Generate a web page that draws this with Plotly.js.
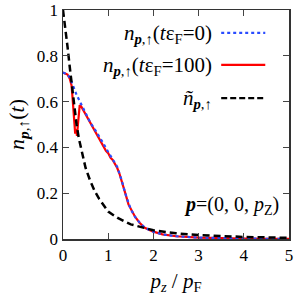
<!DOCTYPE html>
<html><head><meta charset="utf-8">
<script src="https://cdn.plot.ly/plotly-3.0.1.min.js"></script>
<style>html,body{margin:0;padding:0;background:#fff}</style>
</head><body><div id="plot" style="width:300px;height:296px"></div>
<script>
// Series t*eF = 0 (blue dotted)
const x0 = [0, 0.05, 0.1, 0.15, 0.2, 0.25, 0.3, 0.4, 0.5, 0.6, 0.7, 0.8, 0.9, 1.0, 1.1, 1.2, 1.3, 1.4, 1.5, 1.6, 1.7, 1.8, 1.9, 2.0, 2.2, 2.5, 3.0, 3.5, 4.0, 4.5, 5.0];
const y0 = [0.727, 0.724, 0.718, 0.705, 0.68, 0.655, 0.63, 0.59, 0.55, 0.51, 0.48, 0.45, 0.415, 0.38, 0.35, 0.315, 0.255, 0.185, 0.13, 0.095, 0.07, 0.052, 0.04, 0.032, 0.02, 0.012, 0.006, 0.003, 0.002, 0.001, 0.001];
// Series t*eF = 100 (red)
const x100 = [0, 0.05, 0.1, 0.15, 0.19, 0.21, 0.23, 0.25, 0.27, 0.29, 0.31, 0.33, 0.35, 0.37, 0.4, 0.5, 0.6, 0.7, 0.8, 0.85, 0.9, 0.95, 1.0, 1.05, 1.1, 1.15, 1.2, 1.25, 1.3, 1.35, 1.4, 1.45, 1.5, 1.6, 1.7, 1.8, 1.9, 2.0, 2.2, 2.5, 3.0, 3.5, 4.0, 4.5, 5.0];
const y100 = [0.727, 0.724, 0.718, 0.7, 0.67, 0.62, 0.55, 0.5, 0.46, 0.48, 0.45, 0.5, 0.56, 0.585, 0.58, 0.545, 0.505, 0.47, 0.44, 0.42, 0.405, 0.385, 0.375, 0.355, 0.345, 0.33, 0.31, 0.285, 0.255, 0.215, 0.185, 0.15, 0.13, 0.095, 0.07, 0.05, 0.04, 0.032, 0.02, 0.012, 0.006, 0.003, 0.002, 0.001, 0.001];
// n tilde (black dashed)
const xt = [0, 0.05, 0.1, 0.15, 0.2, 0.25, 0.3, 0.35, 0.4, 0.5, 0.6, 0.7, 0.8, 1.0, 1.2, 1.5, 2.0, 2.5, 3.0, 3.5, 4.0, 4.5, 5.0];
const yt = [1.0, 0.93, 0.84, 0.75, 0.66, 0.58, 0.5, 0.44, 0.395, 0.31, 0.255, 0.21, 0.175, 0.12, 0.093, 0.064, 0.038, 0.025, 0.017, 0.012, 0.009, 0.007, 0.005];

const legendText = [
  '<i>n</i><sub><b><i>p</i></b>,↑</sub>(<i>t</i>ε<sub>F</sub>=0)',
  '<i>n</i><sub><b><i>p</i></b>,↑</sub>(<i>t</i>ε<sub>F</sub>=100)',
  '<i>ñ</i><sub><b><i>p</i></b>,↑</sub>'
];
const xTicks = [0, 1, 2, 3, 4, 5];
const yTicks = [0, 0.2, 0.4, 0.6, 0.8, 1];
const yTickText = ['0', '0.2', '0.4', '0.6', '0.8', '1'];

const serif = 'serif';
const traces = [
  {x: x0, y: y0, mode: 'lines', line: {color: '#2a4cff', width: 2.2, dash: 'dot'}},
  {x: x100, y: y100, mode: 'lines', line: {color: '#ff0000', width: 2.2}},
  {x: xt, y: yt, mode: 'lines', line: {color: '#000000', width: 2.5, dash: '7px,4px'}},
];
const data = [traces[1], traces[0], traces[2]];

const legY = [0.895, 0.755, 0.61];
const legColors = ['#2a4cff', '#ff0000', '#000000'];
const legDash = ['dot', 'solid', '6px,3px'];
const annotations = legendText.map((t, i) => ({
  xref: 'paper', yref: 'paper', x: 0.67, y: legY[i], xanchor: 'right', yanchor: 'middle',
  text: t, showarrow: false, font: {family: serif, size: 21, color: '#000'}
}));
annotations.push({xref: 'paper', yref: 'paper', x: 0.965, y: 0.145, xanchor: 'right', yanchor: 'middle',
  text: '<b><i>p</i></b>=(0, 0, <i>p</i><sub>Z</sub>)', showarrow: false, font: {family: serif, size: 20, color: '#000'}});
const shapes = legY.map((yy, i) => ({
  type: 'line', xref: 'paper', yref: 'paper', x0: 0.7, x1: 0.895, y0: yy + 0.005, y1: yy + 0.005,
  line: {color: legColors[i], width: 2.2, dash: legDash[i]}
}));

const layout = {
  width: 300, height: 296,
  margin: {l: 63, r: 7, t: 10, b: 57},
  showlegend: false,
  paper_bgcolor: '#fff', plot_bgcolor: '#fff',
  font: {family: serif, size: 17, color: '#000'},
  xaxis: {
    range: [0, 5], tickvals: xTicks, ticks: 'inside', ticklen: 6, tickwidth: 1.2,
    showline: true, linecolor: '#333', linewidth: 1.5, mirror: 'ticks', showgrid: false, zeroline: false,
    tickfont: {family: serif, size: 17}, automargin: true,
    title: {text: '<i>p<sub>z</sub></i> / <i>p</i><sub>F</sub>', font: {family: serif, size: 21}, standoff: 9}
  },
  yaxis: {
    range: [0, 1], tickvals: yTicks, ticktext: yTickText, ticks: 'inside', ticklen: 6, tickwidth: 1.2,
    showline: true, linecolor: '#333', linewidth: 1.5, mirror: 'ticks', showgrid: false, zeroline: false,
    tickfont: {family: serif, size: 17},
    title: {text: '<i>n</i><sub><b><i>p</i></b>,↑</sub>(<i>t</i>)', font: {family: serif, size: 22}, standoff: 6}
  },
  annotations: annotations,
  shapes: shapes
};
Plotly.newPlot('plot', data, layout, {staticPlot: true, displayModeBar: false});
</script></body></html>
